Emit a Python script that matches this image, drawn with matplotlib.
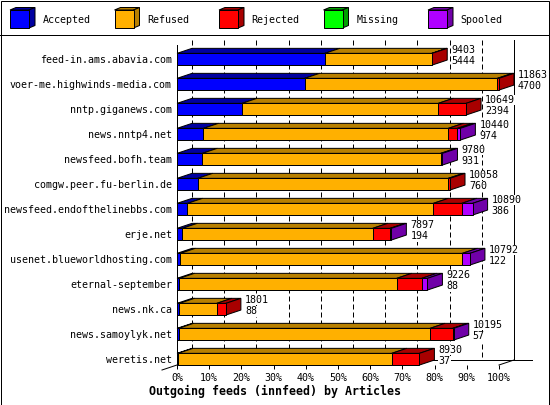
import matplotlib
matplotlib.use("Agg")
import matplotlib.pyplot as plt
from matplotlib.patches import Polygon, Rectangle
import numpy as np

# innfeed outgoing feeds, articles per peer
hosts = [
    'feed-in.ams.abavia.com', 'voer-me.highwinds-media.com', 'nntp.giganews.com',
    'news.nntp4.net', 'newsfeed.bofh.team', 'comgw.peer.fu-berlin.de',
    'newsfeed.endofthelinebbs.com', 'erje.net', 'usenet.blueworldhosting.com',
    'eternal-september', 'news.nk.ca', 'news.samoylyk.net', 'weretis.net',
]
accepted = [5444, 4700, 2394, 974, 931, 760, 386, 194, 122, 88, 88, 57, 37]
refused = [3943, 7103, 7233, 9021, 8784, 9235, 9057, 7016, 10389, 8006, 1375, 9264, 7873]
rejected = [16, 60, 1022, 332, 0, 63, 1046, 637, 0, 921, 338, 836, 1020]
missing = [0, 0, 0, 0, 0, 0, 0, 0, 0, 0, 0, 0, 0]
spooled = [0, 0, 0, 113, 65, 0, 401, 50, 281, 211, 0, 38, 0]

series_names = ['Accepted', 'Refused', 'Rejected', 'Missing', 'Spooled']
face_colors = ['#0000ff', '#ffb000', '#ff0000', '#00ff00', '#b000ff']
shade_colors = ['#0000a0', '#b88000', '#a80000', '#00a000', '#7000a8']

W, H = 550, 405
MONO = 'DejaVu Sans Mono'
LW = 0.72  # one pixel

data = np.array([accepted, refused, rejected, missing, spooled], dtype=float)
totals = data.sum(axis=0)
n = len(hosts)
xmax = totals.max()

fig = plt.figure(figsize=(W / 100, H / 100), dpi=100)
fig.add_artist(Rectangle((0.5 / W, 0.5 / H), 1 - 1.5 / W, 1 - 1.5 / H, transform=fig.transFigure,
                         fill=False, edgecolor='black', lw=LW))

# main plot: front plane 177..499 px wide, 45..365 px tall
ax = fig.add_axes([177 / W, 1 - 365 / H, 322 / W, 320 / H])
ax.set_xlim(0, xmax)
ax.set_ylim(n - 1 + 5.8 / 25, -14.2 / 25)
for s in ['top', 'right', 'bottom']:
    ax.spines[s].set_visible(False)
ax.spines['left'].set_linewidth(LW)

# depth of the 3d effect in data units
dx = 15 * xmax / 322
dy = -5 / 25
h = 11.7 / 25
y_top, y_bot = ax.get_ylim()[1], ax.get_ylim()[0]

# back wall grid
for k in range(11):
    gx = k * xmax / 10 + dx
    ax.plot([gx, gx], [y_top + dy, y_bot + dy], color='black', lw=LW, dashes=(5, 3),
            clip_on=False, zorder=1)
ax.plot([xmax + dx, xmax + dx], [y_top + dy, y_bot + dy], color='black', lw=LW, clip_on=False, zorder=1)
ax.plot([dx, xmax + 33 * xmax / 322], [y_bot + dy, y_bot + dy], color='black', lw=LW, clip_on=False, zorder=1)
ax.plot([xmax, xmax + dx], [y_bot, y_bot + dy], color='black', lw=LW, clip_on=False, zorder=1)
ax.plot([-dx, 0], [y_bot - dy, y_bot], color='black', lw=LW, clip_on=False, zorder=1)

# bars
for i in range(n):
    yt = i - h / 2
    left = 0.0
    vals = data[:, i]
    last = max(j for j in range(len(vals)) if vals[j] > 0)
    for j, v in enumerate(vals):
        if v <= 0:
            continue
        right = left + v
        ax.add_patch(Polygon([(left, yt), (left + dx, yt + dy), (right + dx, yt + dy), (right, yt)],
                             closed=True, facecolor=shade_colors[j], edgecolor='black', lw=LW,
                             clip_on=False, zorder=2))
        ax.add_patch(Rectangle((left, yt), v, h, facecolor=face_colors[j], edgecolor='black', lw=LW,
                               clip_on=False, zorder=3))
        if j == last:
            ax.add_patch(Polygon([(right, yt), (right + dx, yt + dy), (right + dx, yt + h + dy), (right, yt + h)],
                                 closed=True, facecolor=shade_colors[j], edgecolor='black', lw=LW,
                                 clip_on=False, zorder=2))
        left = right
    lx = totals[i] + dx + 4 * xmax / 322
    ax.text(lx, i - 0.37, f'{int(totals[i])}', ha='left', va='center', fontsize=7.2, family=MONO,
            bbox=dict(facecolor='white', edgecolor='none', pad=0.2), zorder=5, clip_on=False)
    ax.text(lx, i + 0.09, f'{accepted[i]}', ha='left', va='center', fontsize=7.2, family=MONO,
            bbox=dict(facecolor='white', edgecolor='none', pad=0.2), zorder=5, clip_on=False)

ax.set_xticks(np.linspace(0, xmax, 11))
ax.set_xticklabels([f'{p}%' for p in range(0, 101, 10)], family=MONO, fontsize=7.2)
ax.tick_params(axis='x', length=3, width=LW, direction='out', pad=3)
ax.set_yticks(range(n))
ax.set_yticklabels(hosts, family=MONO, fontsize=7.2)
ax.tick_params(axis='y', length=0, pad=3.6)

fig.text(0.5, 1 - 391 / H, 'Outgoing feeds (innfeed) by Articles', ha='center', va='center',
         family=MONO, fontweight='bold', fontsize=8.4)

# legend strip with little cubes
lax = fig.add_axes([0, 1 - 35 / H, 1, 35 / H])
lax.set_xlim(0, W)
lax.set_ylim(35, 0)
lax.axis('off')
lax.plot([0, W], [35, 35], color='black', lw=LW, clip_on=False)
for k, name in enumerate(series_names):
    x = 10 + 104.5 * k
    lax.add_patch(Polygon([(x, 10), (x + 6, 7.5), (x + 25, 7.5), (x + 19, 10)], closed=True,
                          facecolor=shade_colors[k], edgecolor='black', lw=LW))
    lax.add_patch(Polygon([(x + 19, 10), (x + 25, 7.5), (x + 25, 25.5), (x + 19, 28)], closed=True,
                          facecolor=shade_colors[k], edgecolor='black', lw=LW))
    lax.add_patch(Rectangle((x, 10), 19, 18, facecolor=face_colors[k], edgecolor='black', lw=LW))
    lax.text(x + 32.7, 20, name, ha='left', va='center', family=MONO, fontsize=7.2)

fig.savefig('out.png', dpi=100)
